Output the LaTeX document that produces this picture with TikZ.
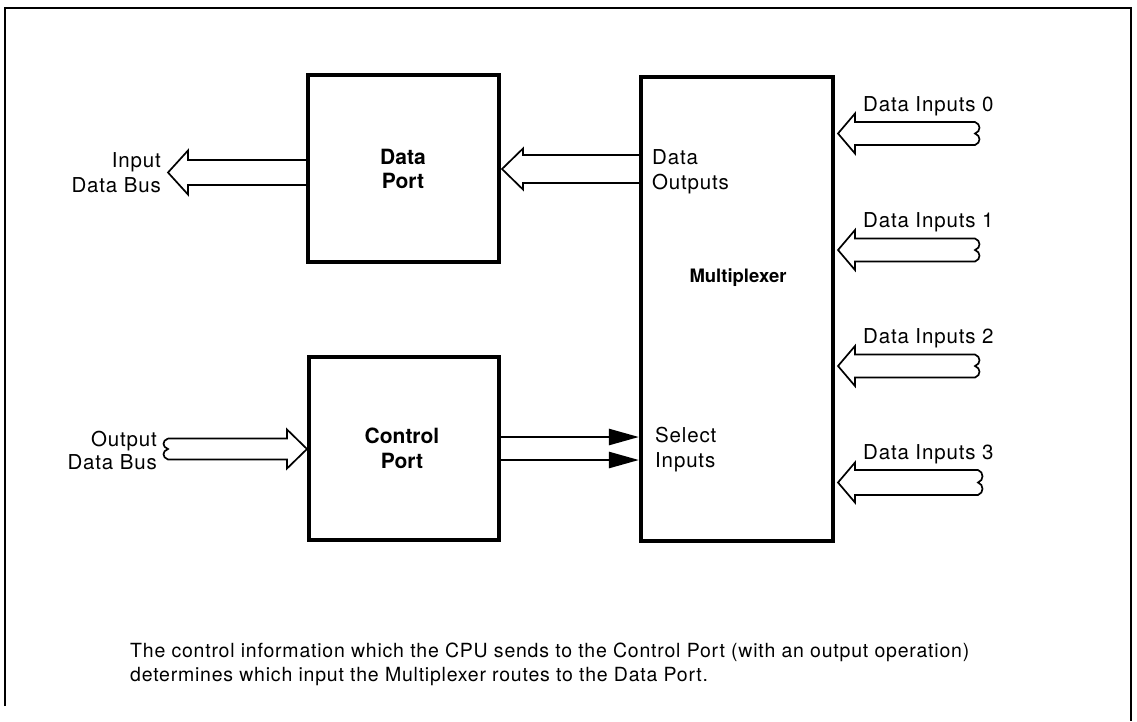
\documentclass[tikz,border=0pt]{standalone}
\usepackage{fontspec}
\setmainfont{TeX Gyre Heros}[LetterSpace=4]
\newfontfamily\boxfont{TeX Gyre Heros}
\usetikzlibrary{arrows.meta}
\newcommand{\busOpen}[6]{%
  \draw[bus] (#2,#3-#4) -- (#1+#6,#3-#4) -- (#1+#6,#3-#5) -- (#1,#3) -- (#1+#6,#3+#5) -- (#1+#6,#3+#4) -- (#2,#3+#4);}
\newcommand{\busSq}[7]{%
  \draw[bus] (#2,#3-#4) -- (#1+#6,#3-#4) -- (#1+#6,#3-#5) -- (#1,#3) -- (#1+#6,#3+#5) -- (#1+#6,#3+#4) -- (#2,#3+#4)
    .. controls (#2+#7,#3+#4-2) and (#2+#7,#3+2) .. (#2,#3)
    .. controls (#2+#7,#3-2) and (#2+#7,#3-#4+2) .. (#2,#3-#4);}
\begin{document}
\begin{tikzpicture}[x=1pt,y=-1pt,
  box/.style={draw,line width=3.6pt,inner sep=0pt},
  boxlbl/.style={inner sep=0pt,anchor=base,font=\boxfont\fontsize{21}{24}\selectfont\bfseries},
  bus/.style={draw,line width=1.7pt,line join=miter},
  lbl/.style={inner sep=0pt,font=\fontsize{20.5}{24}\selectfont},
  sel/.style={line width=2.6pt,-{Triangle[length=30pt,width=16pt]}}]
\useasboundingbox (0,0) rectangle (1137,721);
% frame
\draw[line width=2.2pt] (5,706) -- (5,8) -- (1131,8) -- (1131,721);
% boxes
\node[box,minimum width=191pt,minimum height=187pt] (dp) at (403.5,168.5) {};
\node[box,minimum width=190pt,minimum height=183pt] (cp) at (404,448.5) {};
\node[box,line width=4.2pt,minimum width=192pt,minimum height=464pt] (mux) at (737,309) {};
\node[boxlbl] (dpl1) at (403,164) {Data};
\node[boxlbl] (dpl2) at (403,188) {Port};
\node[boxlbl] (cpl1) at (402,443) {Control};
\node[boxlbl] (cpl2) at (402,468) {Port};
\node[boxlbl,font=\boxfont\fontsize{18.5}{24}\selectfont\bfseries] (muxl) at (738,282) {Multiplexer};
% input data bus
\busOpen{168}{306.5}{172.5}{12.5}{22}{20}
\node[lbl,anchor=base east] (idb1) at (161,167) {Input};
\node[lbl,anchor=base east] (idb2) at (161,192) {Data Bus};
% data outputs
\busOpen{502}{639}{169}{14}{20.5}{21}
\node[lbl,anchor=base west] (do1) at (652,164) {Data};
\node[lbl,anchor=base west] (do2) at (652,189) {Outputs};
% output data bus
\busSq{307}{168}{449}{10.5}{19.5}{-20}{-6}
\node[lbl,anchor=base east] (odb1) at (157,446) {Output};
\node[lbl,anchor=base east] (odb2) at (157,469) {Data Bus};
% select inputs
\coordinate (s1a) at (cp.east |- 0,437);
\coordinate (s1b) at (mux.west |- 0,437);
\coordinate (s2a) at (cp.east |- 0,460);
\coordinate (s2b) at (mux.west |- 0,460);
\draw[sel] (s1a) -- (s1b);
\draw[sel] (s2a) -- (s2b);
\node[lbl,anchor=base west] (si1) at (655,442) {Select};
\node[lbl,anchor=base west] (si2) at (655,467) {Inputs};
% data inputs
\busSq{838}{975}{133.5}{11.5}{20}{17}{6}
\busSq{838}{975}{250}{11.5}{20}{17}{6}
\busSq{838}{975}{366}{11.5}{20}{17}{6}
\busSq{838}{978}{482.5}{12.5}{20}{17}{6}
\node[lbl,anchor=base west] (di0) at (863,111) {Data Inputs 0};
\node[lbl,anchor=base west] (di1) at (863,227) {Data Inputs 1};
\node[lbl,anchor=base west] (di2) at (863,343) {Data Inputs 2};
\node[lbl,anchor=base west] (di3) at (863,459) {Data Inputs 3};
% caption
\node[lbl,anchor=base west,font=\fontsize{19.5}{24}\selectfont] (cap1) at (130,657) {The control information which the CPU sends to the Control Port (with an output operation)};
\node[lbl,anchor=base west,font=\fontsize{19.5}{24}\selectfont] (cap2) at (130,681) {determines which input the Multiplexer routes to the Data Port.};
\end{tikzpicture}
\end{document}
